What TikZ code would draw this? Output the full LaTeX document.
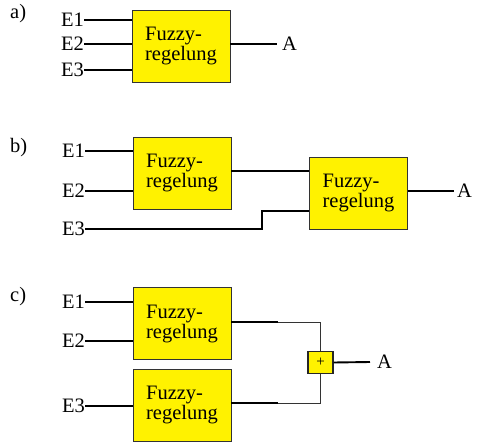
\documentclass[tikz,border=0pt]{standalone}
\usepackage{fontspec}
\setmainfont{Liberation Serif}
\begin{document}
\begin{tikzpicture}[x=1pt,y=-1pt,
  fuzzybox/.style={draw=black!80, line width=0.9pt, fill=yellow, minimum width=98pt,
    minimum height=72pt, inner sep=0pt, align=left,
    font=\fontsize{20.5}{20}\selectfont},
  sumbox/.style={draw=black!85, line width=1.2pt, fill=yellow, minimum width=25pt,
    minimum height=22pt, inner sep=0pt, font=\fontsize{15}{15}\selectfont},
  lbl/.style={inner sep=0pt, font=\fontsize{20.5}{20}\selectfont},
  wire/.style={line width=1.9pt},
  thinwire/.style={line width=1pt, black!80}]
\useasboundingbox (0,0) rectangle (477,444);

% ---- a) single controller with three inputs
\node[lbl, anchor=west] (la) at (10,14) {a)};
\node[fuzzybox] (fa) at (181,46) {Fuzzy-\\regelung};
\node[lbl, anchor=east] (a1) at (84,20) {E1};
\node[lbl, anchor=east] (a2) at (84,44) {E2};
\node[lbl, anchor=east] (a3) at (84,70) {E3};
\node[lbl, anchor=west, inner xsep=5pt] (aA) at (277,44) {A};
\draw[wire] (a1.east) -- (a1.east -| fa.west);
\draw[wire] (a2.east) -- (a2.east -| fa.west);
\draw[wire] (a3.east) -- (a3.east -| fa.west);
\draw[wire] (fa.east |- aA.west) -- (aA.west);

% ---- b) two cascaded controllers
\node[lbl, anchor=west] (lb) at (10,148) {b)};
\node[fuzzybox] (fb1) at (182,173) {Fuzzy-\\regelung};
\node[fuzzybox] (fb2) at (358.5,193) {Fuzzy-\\regelung};
\node[lbl, anchor=east] (b1) at (85,151) {E1};
\node[lbl, anchor=east] (b2) at (85,191) {E2};
\node[lbl, anchor=east] (b3) at (85,229) {E3};
\node[lbl, anchor=west, inner xsep=3pt] (bA) at (454,191) {A};
\coordinate (bk) at (262,229);
\draw[wire] (b1.east) -- (b1.east -| fb1.west);
\draw[wire] (b2.east) -- (b2.east -| fb1.west);
\draw[wire] (fb1.east |- 0,171) -- (fb2.west |- 0,171);
\draw[wire] (b3.east) -- (bk) -- (bk |- 0,211) -- (fb2.west |- 0,211);
\draw[wire] (fb2.east |- bA.west) -- (bA.west);

% ---- c) two parallel controllers summed
\node[lbl, anchor=west] (lc) at (10,297) {c)};
\node[fuzzybox] (fc1) at (182,323.5) {Fuzzy-\\regelung};
\node[fuzzybox] (fc2) at (182,405) {Fuzzy-\\regelung};
\node[sumbox] (sum) at (320.5,362.5) {+};
\node[lbl, anchor=east] (c1) at (85,302) {E1};
\node[lbl, anchor=east] (c2) at (85,341) {E2};
\node[lbl, anchor=east] (c3) at (85,406) {E3};
\node[lbl, anchor=west, inner xsep=7pt] (cA) at (370,362) {A};
\coordinate (ck1) at (278,322);
\coordinate (ck2) at (278,403);
\draw[wire] (c1.east) -- (c1.east -| fc1.west);
\draw[wire] (c2.east) -- (c2.east -| fc1.west);
\draw[wire] (c3.east) -- (c3.east -| fc2.west);
\draw[wire] (fc1.east |- ck1) -- (ck1);
\draw[wire] (fc2.east |- ck2) -- (ck2);
\draw[thinwire] (ck1) -- (sum.north |- ck1) -- (sum.north);
\draw[thinwire] (ck2) -- (sum.south |- ck2) -- (sum.south);
\draw[wire] (sum.east) -- (cA.west);
\end{tikzpicture}
\end{document}
